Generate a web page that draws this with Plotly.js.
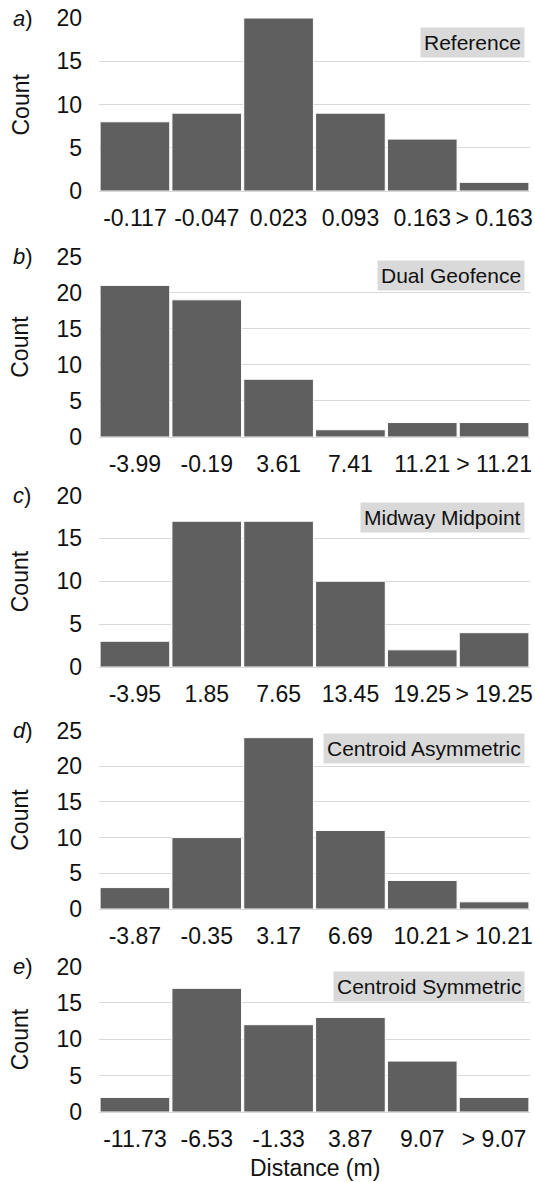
<!DOCTYPE html>
<html>
<head>
<meta charset="utf-8">
<script src="https://cdn.plot.ly/plotly-3.0.1.min.js"></script>
<style>
  html, body { margin: 0; padding: 0; background: #fff; }
  #chart { width: 535px; height: 1182px; }
</style>
</head>
<body>
<div id="chart"></div>
<script>
// Histogram bin labels (upper bin edges) and counts for each positioning method
const binsReference = ["-0.117", "-0.047", "0.023", "0.093", "0.163", "> 0.163"];
const countsReference = [8, 9, 20, 9, 6, 1];

const binsDualGeofence = ["-3.99", "-0.19", "3.61", "7.41", "11.21", "> 11.21"];
const countsDualGeofence = [21, 19, 8, 1, 2, 2];

const binsMidwayMidpoint = ["-3.95", "1.85", "7.65", "13.45", "19.25", "> 19.25"];
const countsMidwayMidpoint = [3, 17, 17, 10, 2, 4];

const binsCentroidAsym = ["-3.87", "-0.35", "3.17", "6.69", "10.21", "> 10.21"];
const countsCentroidAsym = [3, 10, 24, 11, 4, 1];

const binsCentroidSym = ["-11.73", "-6.53", "-1.33", "3.87", "9.07", "> 9.07"];
const countsCentroidSym = [2, 17, 12, 13, 7, 2];

const panelNames = ["Reference", "Dual Geofence", "Midway Midpoint", "Centroid Asymmetric", "Centroid Symmetric"];
const panelLetters = ["a", "b", "c", "d", "e"];
const yMax = [20, 25, 20, 25, 20];

const W = 535, H = 1182;
const FONT = "'Liberation Sans', Arial, sans-serif";
const TEXT = "#111111";

// Pixel frame of each panel's plotting area (top, bottom)
const frames = [[18, 191], [256.5, 437], [495.5, 667], [730.5, 909], [966.5, 1112]];
const labelOffset = [24.5, 19, 21.5, 17.5, 19.5];
const plotLeft = 99, plotRight = 530;

const bins = [binsReference, binsDualGeofence, binsMidwayMidpoint, binsCentroidAsym, binsCentroidSym];
const counts = [countsReference, countsDualGeofence, countsMidwayMidpoint, countsCentroidAsym, countsCentroidSym];

const py = p => 1 - p / H;
const px = p => p / W;

const traces = [];
const layout = {
  width: W, height: H,
  margin: {l: 0, r: 0, t: 0, b: 0},
  paper_bgcolor: "#ffffff",
  plot_bgcolor: "#ffffff",
  showlegend: false,
  bargap: 0.03,
  font: {family: FONT, size: 23, color: TEXT},
  annotations: []
};

for (let i = 0; i < 5; i++) {
  const s = i === 0 ? "" : String(i + 1);
  traces.push({
    type: "bar",
    x: bins[i],
    y: counts[i],
    xaxis: "x" + s,
    yaxis: "y" + s,
    marker: {color: "#5f5f5f", line: {color: "#ffffff", width: 1}},
    hoverinfo: "x+y"
  });
  const [top, bottom] = frames[i];
  layout["xaxis" + s] = {
    domain: [px(plotLeft), px(plotRight)],
    anchor: "y" + s,
    type: "category",
    showgrid: false,
    showline: false,
    zeroline: false,
    ticks: "",
    ticklabelstandoff: 11,
    tickfont: {family: FONT, size: 23, color: TEXT},
    fixedrange: true
  };
  layout["yaxis" + s] = {
    domain: [py(bottom), py(top)],
    anchor: "x" + s,
    range: [0, yMax[i]],
    dtick: 5,
    showgrid: true,
    gridcolor: "#d9d9d9",
    gridwidth: 1,
    zeroline: true,
    zerolinecolor: "#d9d9d9",
    zerolinewidth: 1,
    showline: false,
    ticks: "",
    ticklabelstandoff: 16,
    tickfont: {family: FONT, size: 23, color: TEXT},
    fixedrange: true
  };

  // Panel letter
  layout.annotations.push({
    xref: "paper", yref: "paper",
    x: px(11), y: py(top), xanchor: "left", yanchor: "middle",
    text: "<i>" + panelLetters[i] + "</i>)",
    showarrow: false,
    font: {family: FONT, size: 22, color: TEXT}
  });
  // Axis title
  layout.annotations.push({
    xref: "paper", yref: "paper",
    x: px(20), y: py((top + bottom) / 2), xanchor: "center", yanchor: "middle",
    text: "Count", textangle: -90,
    showarrow: false,
    font: {family: FONT, size: 23, color: TEXT}
  });
  // Method label box
  layout.annotations.push({
    xref: "paper", yref: "paper",
    x: px(525), y: py(top + labelOffset[i]), xanchor: "right", yanchor: "middle",
    text: panelNames[i],
    showarrow: false,
    bgcolor: "#d9d9d9",
    borderpad: 3,
    font: {family: FONT, size: 21, color: TEXT}
  });
}

layout.annotations.push({
  xref: "paper", yref: "paper",
  x: px((plotLeft + plotRight) / 2), y: py(1168), xanchor: "center", yanchor: "middle",
  text: "Distance (m)",
  showarrow: false,
  font: {family: FONT, size: 23, color: TEXT}
});

Plotly.newPlot("chart", traces, layout, {displayModeBar: false, staticPlot: true});
</script>
</body>
</html>
